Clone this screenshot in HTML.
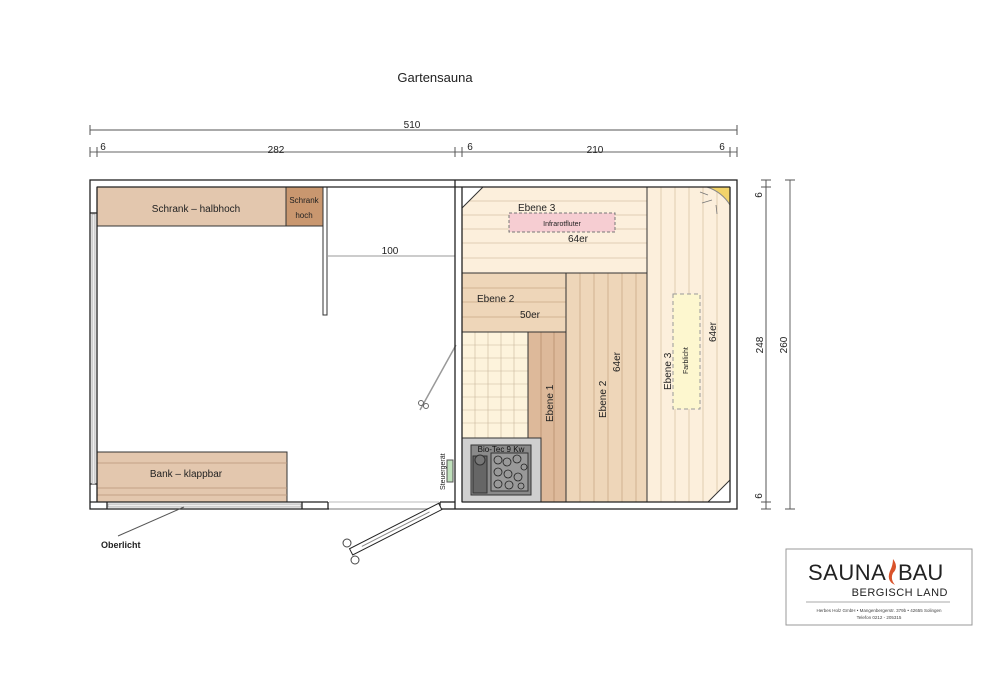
<!DOCTYPE html>
<html><head><meta charset="utf-8"><style>
html,body{margin:0;padding:0;background:#fff;}
svg{display:block;font-family:"Liberation Sans",sans-serif;}
</style></head><body>
<svg width="984" height="700" viewBox="0 0 984 700" xmlns="http://www.w3.org/2000/svg">
<rect width="984" height="700" fill="#fff"/>
<text x="435" y="82" font-size="13" text-anchor="middle" fill="#222">Gartensauna</text>

<!-- top dims -->
<g stroke="#555" stroke-width="1">
<line x1="90" y1="130" x2="737" y2="130"/>
<line x1="90" y1="125" x2="90" y2="135"/><line x1="737" y1="125" x2="737" y2="135"/>
<line x1="90" y1="152" x2="737" y2="152" stroke="#999" stroke-width="1.5"/>
<line x1="90" y1="147" x2="90" y2="157"/><line x1="97" y1="147" x2="97" y2="157"/>
<line x1="455" y1="147" x2="455" y2="157"/><line x1="462" y1="147" x2="462" y2="157"/>
<line x1="730" y1="147" x2="730" y2="157"/><line x1="737" y1="147" x2="737" y2="157"/>
</g>
<g font-size="10" fill="#222" text-anchor="middle">
<text x="412" y="128">510</text>
<text x="103" y="150">6</text><text x="276" y="153">282</text>
<text x="470" y="150">6</text><text x="595" y="153">210</text><text x="722" y="150">6</text>
</g>

<!-- right dims -->
<g stroke="#555" stroke-width="1">
<line x1="766" y1="180" x2="766" y2="509"/>
<line x1="790" y1="180" x2="790" y2="509" stroke="#999" stroke-width="1.5"/>
<line x1="761" y1="180" x2="771" y2="180"/><line x1="761" y1="187" x2="771" y2="187"/>
<line x1="761" y1="502" x2="771" y2="502"/><line x1="761" y1="509" x2="771" y2="509"/>
<line x1="785" y1="180" x2="795" y2="180"/><line x1="785" y1="509" x2="795" y2="509"/>
</g>
<g font-size="10" fill="#222" text-anchor="middle">
<text transform="translate(762,195) rotate(-90)">6</text>
<text transform="translate(763,345) rotate(-90)">248</text>
<text transform="translate(762,496) rotate(-90)">6</text>
<text transform="translate(787,345) rotate(-90)">260</text>
</g>

<!-- sauna interior -->
<rect x="462" y="187" width="185" height="86" fill="#fcefdc"/>
<g stroke="#d9c3a6" stroke-width="0.8">
<line x1="462" y1="201" x2="647" y2="201"/><line x1="462" y1="215" x2="647" y2="215"/>
<line x1="462" y1="229" x2="647" y2="229"/><line x1="462" y1="243" x2="647" y2="243"/>
<line x1="462" y1="258" x2="647" y2="258"/>
</g>
<rect x="647" y="187" width="83" height="315" fill="#fcefdc"/>
<g stroke="#d9c3a6" stroke-width="0.8">
<line x1="661" y1="187" x2="661" y2="502"/><line x1="675" y1="187" x2="675" y2="502"/>
<line x1="689" y1="187" x2="689" y2="502"/><line x1="703" y1="187" x2="703" y2="502"/>
<line x1="717" y1="187" x2="717" y2="502"/>
</g>
<rect x="462" y="273" width="104" height="59" fill="#eed6b9"/>
<g stroke="#c9a987" stroke-width="0.8">
<line x1="462" y1="288" x2="566" y2="288"/><line x1="462" y1="302" x2="566" y2="302"/><line x1="462" y1="317" x2="566" y2="317"/>
</g>
<rect x="566" y="273" width="81" height="229" fill="#eed6b9"/>
<g stroke="#c9a987" stroke-width="0.8">
<line x1="580" y1="273" x2="580" y2="502"/><line x1="594" y1="273" x2="594" y2="502"/>
<line x1="608" y1="273" x2="608" y2="502"/><line x1="622" y1="273" x2="622" y2="502"/><line x1="636" y1="273" x2="636" y2="502"/>
</g>
<rect x="462" y="332" width="66" height="106" fill="#fdf3dc"/>
<g stroke="#c9b89c" stroke-width="0.6">
<line x1="475" y1="332" x2="475" y2="438"/><line x1="488" y1="332" x2="488" y2="438"/><line x1="501" y1="332" x2="501" y2="438"/><line x1="514" y1="332" x2="514" y2="438"/>
<line x1="462" y1="345" x2="528" y2="345"/><line x1="462" y1="358" x2="528" y2="358"/><line x1="462" y1="371" x2="528" y2="371"/><line x1="462" y1="384" x2="528" y2="384"/><line x1="462" y1="397" x2="528" y2="397"/><line x1="462" y1="410" x2="528" y2="410"/><line x1="462" y1="423" x2="528" y2="423"/>
</g>
<rect x="528" y="332" width="38" height="170" fill="#ddb99a"/>
<g stroke="#b8906f" stroke-width="0.8"><line x1="541" y1="332" x2="541" y2="502"/><line x1="554" y1="332" x2="554" y2="502"/></g>
<g stroke="#333" stroke-width="1" fill="none">
<line x1="462" y1="273" x2="647" y2="273"/><line x1="647" y1="187" x2="647" y2="502"/>
<line x1="566" y1="273" x2="566" y2="502"/><line x1="462" y1="332" x2="566" y2="332"/>
<line x1="528" y1="332" x2="528" y2="502"/>
</g>
<!-- corner cuts -->
<polygon points="462,187 483,187 462,208" fill="#fff" stroke="#333"/>
<polygon points="730,480 730,502 708,502" fill="#fff" stroke="#333"/>
<path d="M707,187 Q722,192 730,205 L730,187 Z" fill="#f2d36a" stroke="#888"/>
<g stroke="#777" stroke-width="0.8"><line x1="700" y1="192" x2="708" y2="195"/><line x1="702" y1="203" x2="712" y2="200"/><line x1="716" y1="205" x2="717" y2="214"/></g>
<!-- oven -->
<rect x="462" y="438" width="79" height="64" fill="#cfcfcf" stroke="#333"/>
<rect x="471" y="445" width="60" height="50" fill="#8a8a8a" stroke="#333"/>
<rect x="473" y="456" width="14" height="37" fill="#666" stroke="#333"/>
<circle cx="480" cy="460" r="5" fill="#777" stroke="#333"/>
<rect x="491" y="453" width="37" height="38" fill="#999" stroke="#333"/>
<g fill="none" stroke="#222" stroke-width="0.8">
<circle cx="498" cy="460" r="4"/><circle cx="507" cy="462" r="4"/><circle cx="517" cy="459" r="4"/><circle cx="524" cy="467" r="3"/>
<circle cx="498" cy="472" r="4"/><circle cx="508" cy="474" r="4"/><circle cx="518" cy="477" r="4"/><circle cx="498" cy="484" r="4"/><circle cx="509" cy="485" r="4"/><circle cx="521" cy="486" r="3"/>
</g>
<text x="501" y="452" font-size="8" text-anchor="middle" fill="#111">Bio-Tec 9 Kw</text>
<!-- infrarot -->
<rect x="509" y="213" width="106" height="19" fill="#f6cdd2" stroke="#777" stroke-dasharray="3,2"/>
<text x="562" y="226" font-size="7" text-anchor="middle" fill="#222">Infrarotfluter</text>
<!-- farblicht -->
<rect x="673" y="294" width="27" height="115" fill="#fdf7cf" stroke="#999" stroke-dasharray="4,3"/>
<g font-size="10" fill="#222">
<text x="518" y="211">Ebene 3</text><text x="568" y="242">64er</text>
<text x="477" y="302">Ebene 2</text><text x="520" y="318">50er</text>
<text transform="translate(553,422) rotate(-90)">Ebene 1</text>
<text transform="translate(606,418) rotate(-90)">Ebene 2</text>
<text transform="translate(620,372) rotate(-90)">64er</text>
<text transform="translate(671,390) rotate(-90)">Ebene 3</text>
<text transform="translate(716,342) rotate(-90)">64er</text>
<text transform="translate(688,374) rotate(-90)" font-size="7">Farblicht</text>
</g>

<!-- left room -->
<rect x="97" y="187" width="189" height="39" fill="#e3c7ae" stroke="#333"/>
<rect x="286" y="187" width="37" height="39" fill="#c9976f" stroke="#333"/>
<text x="196" y="212" font-size="10" text-anchor="middle" fill="#222">Schrank – halbhoch</text>
<text x="304" y="203" font-size="8" text-anchor="middle" fill="#222">Schrank</text>
<text x="304" y="218" font-size="8" text-anchor="middle" fill="#222">hoch</text>
<rect x="323" y="187" width="4" height="128" fill="#fff" stroke="#333"/>
<line x1="327" y1="256" x2="455" y2="256" stroke="#999"/>
<text x="390" y="254" font-size="10" text-anchor="middle" fill="#222">100</text>
<rect x="97" y="452" width="190" height="50" fill="#e3c7ae" stroke="#333"/>
<g stroke="#b89677" stroke-width="0.8"><line x1="97" y1="463" x2="287" y2="463"/><line x1="97" y1="488" x2="287" y2="488"/><line x1="97" y1="495" x2="287" y2="495"/></g>
<text x="186" y="477" font-size="10" text-anchor="middle" fill="#222">Bank – klappbar</text>
<!-- Steuergerät -->
<rect x="447" y="460" width="6" height="22" fill="#bfe0bb" stroke="#555"/>
<text transform="translate(445,490) rotate(-90)" font-size="7" fill="#222">Steuergerät</text>
<!-- sauna door swing -->
<line x1="456" y1="345" x2="420" y2="410" stroke="#999" stroke-width="1.5"/>
<circle cx="421" cy="403" r="2.5" fill="none" stroke="#666"/><circle cx="426" cy="406" r="2.5" fill="none" stroke="#666"/>

<!-- walls -->
<g fill="none" stroke="#222" stroke-width="1.3">
<rect x="90" y="180" width="647" height="329"/>
<line x1="97" y1="187" x2="730" y2="187"/>
<line x1="97" y1="187" x2="97" y2="502"/><line x1="730" y1="187" x2="730" y2="502"/>
<line x1="455" y1="180" x2="455" y2="509"/><line x1="462" y1="187" x2="462" y2="502"/>
<line x1="462" y1="502" x2="730" y2="502"/>
<line x1="90" y1="502" x2="328" y2="502"/><line x1="440" y1="502" x2="455" y2="502"/>
<line x1="90" y1="213" x2="97" y2="213"/><line x1="90" y1="484" x2="97" y2="484"/>
<line x1="107" y1="502" x2="107" y2="509"/><line x1="302" y1="502" x2="302" y2="509"/>
<line x1="328" y1="502" x2="328" y2="509"/><line x1="440" y1="502" x2="440" y2="509"/>
</g>
<rect x="92" y="214" width="3" height="270" fill="#eee" stroke="#888" stroke-width="0.6"/>
<rect x="108" y="504" width="193" height="3" fill="#eee" stroke="#888" stroke-width="0.6"/>
<rect x="329" y="503" width="110" height="5" fill="#fff"/>
<line x1="329" y1="502" x2="439" y2="502" stroke="#bbb"/>
<line x1="329" y1="509" x2="439" y2="509" stroke="#bbb"/>
<!-- entrance door -->
<g transform="translate(440,506) rotate(-27)">
<rect x="-100" y="-3" width="100" height="7" fill="#fff" stroke="#222"/>
<line x1="-88" y1="0.5" x2="-12" y2="0.5" stroke="#888"/>
</g>
<circle cx="347" cy="543" r="4" fill="#fff" stroke="#444"/><circle cx="355" cy="560" r="4" fill="#fff" stroke="#444"/>
<!-- Oberlicht -->
<line x1="118" y1="536" x2="184" y2="507" stroke="#555"/>
<text x="101" y="548" font-size="9" font-weight="bold" fill="#222">Oberlicht</text>

<!-- logo -->
<rect x="786" y="549" width="186" height="76" fill="#fff" stroke="#999"/>
<text x="808" y="580" font-size="22" fill="#222" letter-spacing="0.5">SAUNA</text>
<path d="M893,559 q6,8 0,14 q-3,6 2,12 q-9,-4 -5,-14 q3,-6 3,-12z" fill="#d9532b"/>
<text x="898" y="580" font-size="22" fill="#222">BAU</text>
<text x="948" y="596" font-size="11" text-anchor="end" fill="#222" letter-spacing="0.5">BERGISCH LAND</text>
<line x1="806" y1="602" x2="950" y2="602" stroke="#aaa"/>
<text x="879" y="612" font-size="4.5" text-anchor="middle" fill="#444">Herbes Holz GmbH • Mangenbergerstr. 379b • 42655 Solingen</text>
<text x="879" y="619" font-size="4.5" text-anchor="middle" fill="#444">Telefon 0212 - 205315</text>
</svg>
</body></html>
